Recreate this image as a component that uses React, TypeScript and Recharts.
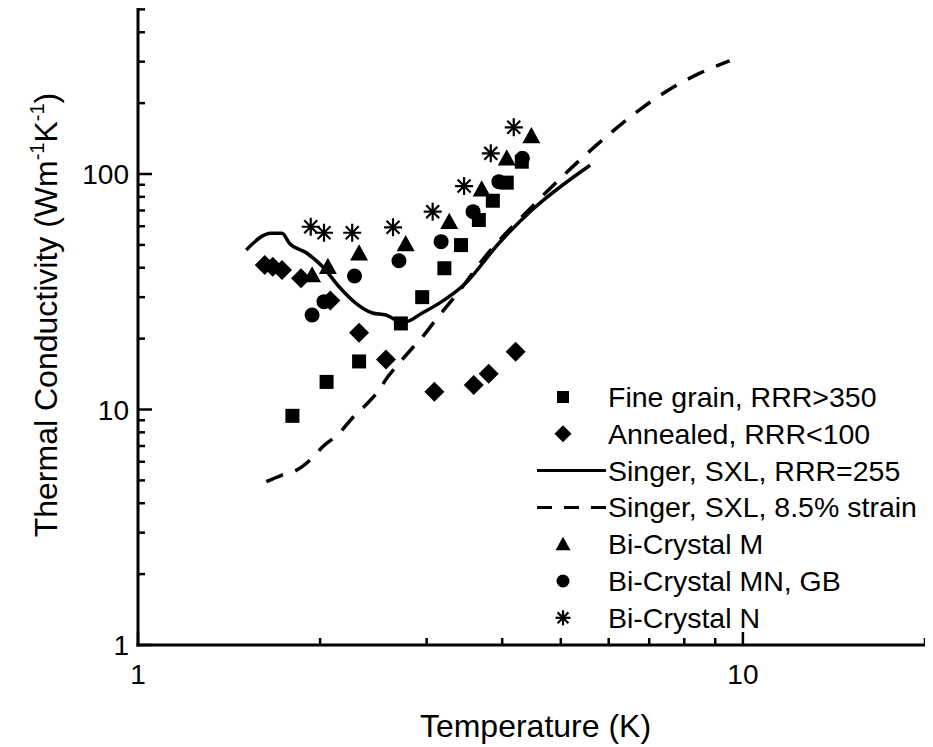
import { ComposedChart, Legend, Line, Scatter, XAxis, YAxis } from "recharts";

type Pt = [number, number];

// temperature (K), thermal conductivity (W m^-1 K^-1)
const fineGrain: Pt[] = [
  [1.8, 9.4], [2.05, 13.1], [2.32, 16.0], [2.72, 23.2], [2.95, 30.0], [3.21, 39.8],
  [3.42, 49.9], [3.66, 63.8], [3.86, 77.0], [4.07, 91.9], [4.31, 112.8],
];
const annealed: Pt[] = [
  [1.62, 41.1], [1.67, 40.4], [1.73, 39.1], [1.86, 36.1], [2.08, 29.0], [2.32, 21.2],
  [2.57, 16.3], [3.09, 11.9], [3.59, 12.7], [3.8, 14.2], [4.21, 17.6],
];
const singerRRR255: Pt[] = [
  [1.51, 47.6], [1.66, 56.0], [1.73, 56.0], [1.78, 50.8], [1.9, 46.2], [2.02, 40.4],
  [2.15, 33.2], [2.29, 28.3], [2.44, 25.7], [2.57, 25.2], [2.67, 24.0], [2.77, 23.6],
  [2.95, 25.7], [3.15, 28.3], [3.48, 34.4], [3.95, 50.8], [4.48, 70.3], [5.59, 109],
];
const singerStrain: Pt[] = [
  [1.63, 4.94], [1.73, 5.27], [1.83, 5.53], [1.93, 6.14], [2.02, 6.95], [2.15, 7.92],
  [2.26, 9.18], [2.38, 10.45], [2.49, 11.9], [2.59, 13.8], [2.7, 15.7], [2.84, 18.2],
  [2.97, 20.7], [3.12, 24.4], [3.39, 31.6], [3.71, 43.1], [4.48, 72.6], [4.96, 94.3],
  [5.45, 118.4], [6.11, 152.7], [6.8, 190], [7.57, 229], [8.49, 268], [9.51, 302],
];
const biCrystalM: Pt[] = [
  [1.94, 37.2], [2.06, 40.4], [2.32, 46.1], [2.77, 50.4], [3.27, 62.7], [3.7, 86.1],
  [4.07, 116.6], [4.47, 145],
];
const biCrystalMN: Pt[] = [
  [1.94, 25.2], [2.03, 28.7], [2.28, 36.9], [2.7, 42.8], [3.17, 51.6], [3.58, 69.2],
  [3.95, 92.8], [4.32, 116.6],
];
const biCrystalN: Pt[] = [
  [1.93, 59.7], [2.03, 56.3], [2.26, 56.3], [2.64, 59.4], [3.07, 69.2], [3.46, 88.9],
  [3.83, 122.4], [4.18, 157.9],
];

const xTicks = [1, 2, 3, 4, 5, 6, 7, 8, 9, 10, 20];
const yTicks = [
  1, 2, 3, 4, 5, 6, 7, 8, 9, 10, 20, 30, 40, 50, 60, 70, 80, 90, 100, 200, 300, 400, 500,
];
const xLabelled = [1, 10];
const yLabelled = [1, 10, 100];

const legendLabels = [
  "Fine grain, RRR>350",
  "Annealed, RRR<100",
  "Singer, SXL, RRR=255",
  "Singer, SXL, 8.5% strain",
  "Bi-Crystal M",
  "Bi-Crystal MN, GB",
  "Bi-Crystal N",
];

const FONT = '"Liberation Sans", Arial, Helvetica, sans-serif';
const INK = "#000";

// chart frame
const W = 925;
const H = 739;
const MARGIN = { top: 1.4, right: 8, bottom: 0, left: 0 };
const Y_AXIS_W = 130;
const X_AXIS_H = 102;
const PLOT_LEFT = MARGIN.left + Y_AXIS_W;
const PLOT_BOTTOM = H - MARGIN.bottom - X_AXIS_H;

const rows = (pts: Pt[]) => pts.map(([t, k]) => ({ t, k }));

type MarkProps = { cx: number; cy: number; s?: number };

const SquareMark = ({ cx, cy, s = 7 }: MarkProps) => (
  <rect x={cx - s} y={cy - s} width={2 * s} height={2 * s} fill={INK} />
);
const DiamondMark = ({ cx, cy, s = 10 }: MarkProps) => (
  <polygon points={`${cx},${cy - s} ${cx + s},${cy} ${cx},${cy + s} ${cx - s},${cy}`} fill={INK} />
);
const TriangleMark = ({ cx, cy, s = 9 }: MarkProps) => (
  <polygon
    points={`${cx},${cy - s} ${cx + s},${cy + s * 0.8} ${cx - s},${cy + s * 0.8}`}
    fill={INK}
  />
);
const CircleMark = ({ cx, cy, s = 7.5 }: MarkProps) => <circle cx={cx} cy={cy} r={s} fill={INK} />;
const StarMark = ({ cx, cy, s = 9 }: MarkProps) => {
  const d = s * 0.72;
  return (
    <g stroke={INK} strokeWidth={2.2}>
      <line x1={cx - s} y1={cy} x2={cx + s} y2={cy} />
      <line x1={cx} y1={cy - s} x2={cx} y2={cy + s} />
      <line x1={cx - d} y1={cy - d} x2={cx + d} y2={cy + d} />
      <line x1={cx - d} y1={cy + d} x2={cx + d} y2={cy - d} />
    </g>
  );
};

// ticks point inward from the axis line; only decades get a number
function XTick({ x, payload }: any) {
  const v = payload.value;
  const major = xLabelled.includes(v);
  const y = PLOT_BOTTOM;
  return (
    <g>
      <line x1={x} y1={y} x2={x} y2={y - (major ? 13 : 7)} stroke={INK} strokeWidth={2.5} />
      {major && (
        <text x={x} y={y + 39} textAnchor="middle" fontFamily={FONT} fontSize={28} fill={INK}>
          {v}
        </text>
      )}
    </g>
  );
}

function YTick({ y, payload }: any) {
  const v = payload.value;
  const major = yLabelled.includes(v);
  const x = PLOT_LEFT;
  return (
    <g>
      <line x1={x} y1={y} x2={x + (major ? 14 : 7)} y2={y} stroke={INK} strokeWidth={2.5} />
      {major && (
        <text x={x - 9} y={y} dy="0.36em" textAnchor="end" fontFamily={FONT} fontSize={28} fill={INK}>
          {v}
        </text>
      )}
    </g>
  );
}

function XTitle() {
  const plotW = W - PLOT_LEFT - MARGIN.right;
  return (
    <text
      x={PLOT_LEFT + plotW / 2 + 4}
      y={PLOT_BOTTOM + 92}
      textAnchor="middle"
      fontFamily={FONT}
      fontSize={32}
      fill={INK}
    >
      Temperature (K)
    </text>
  );
}

function YTitle() {
  const cx = 49;
  const cy = 307;
  return (
    <text
      x={cx}
      y={cy}
      transform={`rotate(-90, ${cx}, ${cy})`}
      textAnchor="middle"
      fontFamily={FONT}
      fontSize={32}
      fill={INK}
    >
      Thermal Conductivity (Wm
      <tspan fontSize={20} dy={-13}>-1</tspan>
      <tspan dy={13}>K</tspan>
      <tspan fontSize={20} dy={-13}>-1</tspan>
      <tspan dy={13}>)</tspan>
    </text>
  );
}

function LegendBox() {
  const rowH = 36.8;
  const mx = 26;
  return (
    <svg width={400} height={260}>
      {legendLabels.map((label, i) => {
        const cy = 18 + i * rowH;
        let icon = null;
        if (i === 0) icon = <SquareMark cx={mx} cy={cy} s={6} />;
        if (i === 1) icon = <DiamondMark cx={mx} cy={cy} s={8.5} />;
        if (i === 2) icon = <line x1={0} y1={cy} x2={69} y2={cy} stroke={INK} strokeWidth={3} />;
        if (i === 3)
          icon = (
            <line x1={0} y1={cy} x2={69} y2={cy} stroke={INK} strokeWidth={3} strokeDasharray="15 12" />
          );
        if (i === 4) icon = <TriangleMark cx={mx} cy={cy} s={7.5} />;
        if (i === 5) icon = <CircleMark cx={mx} cy={cy} s={6.5} />;
        if (i === 6) icon = <StarMark cx={mx} cy={cy} s={7.5} />;
        return (
          <g key={label}>
            {icon}
            <text x={71} y={cy + 10} fontFamily={FONT} fontSize={28.5} fill={INK}>
              {label}
            </text>
          </g>
        );
      })}
    </svg>
  );
}

export default function App() {
  return (
    <div style={{ width: W, height: H, background: "#fff" }}>
      <ComposedChart width={W} height={H} margin={MARGIN}>
        <XAxis
          type="number"
          dataKey="t"
          scale="log"
          domain={[1, 20]}
          allowDataOverflow
          ticks={xTicks}
          interval={0}
          height={X_AXIS_H}
          tickSize={0}
          tickMargin={0}
          tickLine={false}
          tick={<XTick />}
          axisLine={{ stroke: INK, strokeWidth: 3, strokeLinecap: "square" }}
          label={{ content: () => <XTitle /> }}
        />
        <YAxis
          type="number"
          dataKey="k"
          scale="log"
          domain={[1, 500]}
          allowDataOverflow
          ticks={yTicks}
          interval={0}
          width={Y_AXIS_W}
          tickSize={0}
          tickMargin={0}
          tickLine={false}
          tick={<YTick />}
          axisLine={{ stroke: INK, strokeWidth: 3, strokeLinecap: "square" }}
          label={{ content: () => <YTitle /> }}
        />
        <Legend
          layout="horizontal"
          verticalAlign="middle"
          align="center"
          content={() => <LegendBox />}
          wrapperStyle={{ position: "absolute", left: 529, top: 371, width: 400, height: 260 }}
        />
        <Line
          data={rows(singerRRR255)}
          dataKey="k"
          type="monotone"
          stroke={INK}
          strokeWidth={3.5}
          dot={false}
          activeDot={false}
          isAnimationActive={false}
        />
        <Line
          data={rows(singerStrain)}
          dataKey="k"
          type="monotone"
          stroke={INK}
          strokeWidth={3.5}
          strokeDasharray="18 13"
          dot={false}
          activeDot={false}
          isAnimationActive={false}
        />
        <Scatter
          data={rows(fineGrain)}
          dataKey="k"
          isAnimationActive={false}
          shape={(p: any) => <SquareMark cx={p.cx} cy={p.cy} />}
        />
        <Scatter
          data={rows(annealed)}
          dataKey="k"
          isAnimationActive={false}
          shape={(p: any) => <DiamondMark cx={p.cx} cy={p.cy} />}
        />
        <Scatter
          data={rows(biCrystalM)}
          dataKey="k"
          isAnimationActive={false}
          shape={(p: any) => <TriangleMark cx={p.cx} cy={p.cy} />}
        />
        <Scatter
          data={rows(biCrystalMN)}
          dataKey="k"
          isAnimationActive={false}
          shape={(p: any) => <CircleMark cx={p.cx} cy={p.cy} />}
        />
        <Scatter
          data={rows(biCrystalN)}
          dataKey="k"
          isAnimationActive={false}
          shape={(p: any) => <StarMark cx={p.cx} cy={p.cy} />}
        />
      </ComposedChart>
    </div>
  );
}
